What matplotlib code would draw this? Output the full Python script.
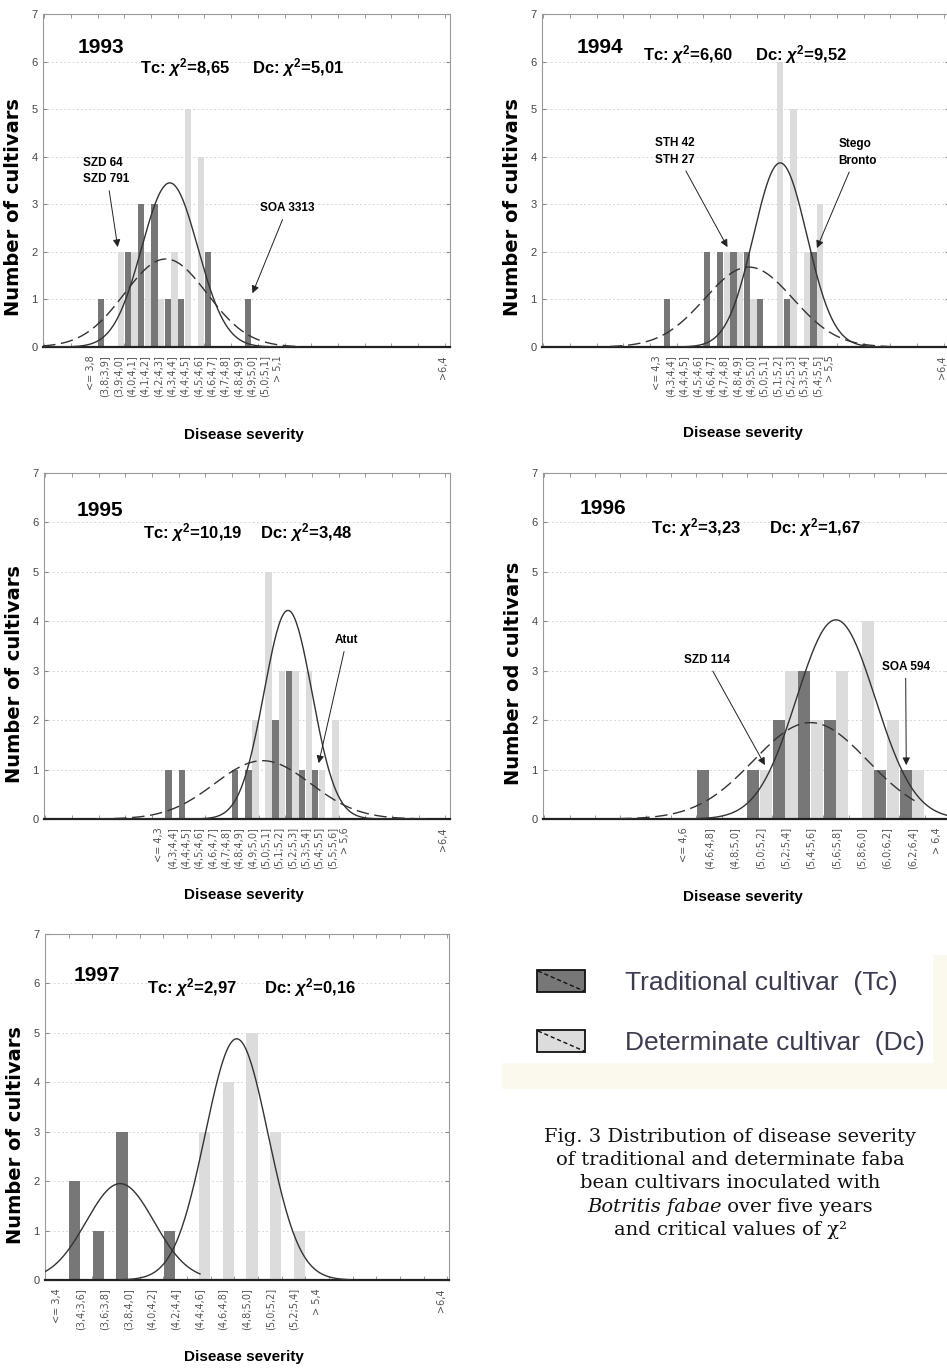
import numpy as np
import matplotlib
matplotlib.use('Agg')
import matplotlib.pyplot as plt
from matplotlib.patches import Rectangle
from matplotlib.ticker import MultipleLocator

SANS = 'Liberation Sans'

plt.rcParams['mathtext.fontset'] = 'custom'
plt.rcParams['mathtext.rm'] = SANS + ':bold'
plt.rcParams['mathtext.it'] = SANS + ':italic:bold'
plt.rcParams['mathtext.bf'] = SANS + ':bold'

# ---- data ----
years = ['1993', '1994', '1995', '1996', '1997']
chi_tc = ['8,65', '6,60', '10,19', '3,23', '2,97']
chi_dc = ['5,01', '9,52', '3,48', '1,67', '0,16']

labels_1993 = ['<= 3,8', '(3,8;3,9]', '(3,9;4,0]', '(4,0;4,1]', '(4,1;4,2]', '(4,2;4,3]',
               '(4,3;4,4]', '(4,4;4,5]', '(4,5;4,6]', '(4,6;4,7]', '(4,7;4,8]', '(4,8;4,9]',
               '(4,9;5,0]', '(5,0;5,1]', '> 5,1']
tc_1993 = [0, 1, 0, 2, 3, 3, 1, 1, 0, 2, 0, 0, 1, 0, 0]
dc_1993 = [0, 0, 2, 2, 2, 1, 2, 5, 4, 0, 0, 0, 0, 0, 0]

labels_1994 = ['<= 4,3', '(4,3;4,4]', '(4,4;4,5]', '(4,5;4,6]', '(4,6;4,7]', '(4,7;4,8]',
               '(4,8;4,9]', '(4,9;5,0]', '(5,0;5,1]', '(5,1;5,2]', '(5,2;5,3]', '(5,3;5,4]',
               '(5,4;5,5]', '> 5,5']
tc_1994 = [0, 1, 0, 0, 2, 2, 2, 2, 1, 0, 1, 0, 2, 0]
dc_1994 = [0, 0, 0, 0, 0, 2, 2, 1, 0, 6, 5, 2, 3, 0]

labels_1995 = ['<= 4,3', '(4,3;4,4]', '(4,4;4,5]', '(4,5;4,6]', '(4,6;4,7]', '(4,7;4,8]',
               '(4,8;4,9]', '(4,9;5,0]', '(5,0;5,1]', '(5,1;5,2]', '(5,2;5,3]', '(5,3;5,4]',
               '(5,4;5,5]', '(5,5;5,6]', '> 5,6']
tc_1995 = [0, 1, 1, 0, 0, 0, 1, 1, 0, 2, 3, 1, 1, 0, 0]
dc_1995 = [0, 0, 0, 0, 0, 0, 0, 2, 5, 3, 3, 3, 1, 2, 0]

labels_1996 = ['<= 4,6', '(4,6;4,8]', '(4,8;5,0]', '(5,0;5,2]', '(5,2;5,4]', '(5,4;5,6]',
               '(5,6;5,8]', '(5,8;6,0]', '(6,0;6,2]', '(6,2;6,4]', '> 6,4']
tc_1996 = [0, 1, 0, 1, 2, 3, 2, 0, 1, 1, 0]
dc_1996 = [0, 0, 0, 1, 3, 2, 3, 4, 2, 1, 0]

labels_1997 = ['<= 3,4', '(3,4;3,6]', '(3,6;3,8]', '(3,8;4,0]', '(4,0;4,2]', '(4,2;4,4]',
               '(4,4;4,6]', '(4,6;4,8]', '(4,8;5,0]', '(5,0;5,2]', '(5,2;5,4]', '> 5,4']
tc_1997 = [0, 2, 1, 3, 0, 1, 0, 0, 0, 0, 0, 0]
dc_1997 = [0, 0, 0, 0, 0, 0, 3, 4, 5, 3, 1, 0]

# bin centre of the first class and class width
first_centre = [3.75, 4.25, 4.25, 4.5, 3.3]
bin_width = [0.1, 0.1, 0.1, 0.2, 0.2]

# fitted normal curves: mean, sd, peak height, drawn range
fit_tc = [(4.31, 0.31, 1.85, 3.39, 5.30), (4.94, 0.33, 1.68, 3.90, 6.00),
          (5.03, 0.36, 1.18, 3.78, 6.25), (5.50, 0.45, 1.95, 3.99, 6.32),
          (3.835, 0.287, 1.95, 3.20, 4.51)]
fit_dc = [(4.34, 0.21, 3.45, 3.39, 5.30), (5.175, 0.20, 3.87, 4.30, 6.00),
          (5.22, 0.18, 4.22, 3.78, 6.25), (5.70, 0.31, 4.03, 4.40, 6.60),
          (4.82, 0.265, 4.88, 3.83, 5.78)]
tc_dashed = [True, True, True, True, False]

labels = [labels_1993, labels_1994, labels_1995, labels_1996, labels_1997]
tc_counts = [tc_1993, tc_1994, tc_1995, tc_1996, tc_1997]
dc_counts = [dc_1993, dc_1994, dc_1995, dc_1996, dc_1997]
ylabels = ['Number of cultivars'] * 3 + ['Number od cultivars', 'Number of cultivars']

# ---- layout (pixels) ----
W, H = 947, 1371
rects = [(43, 14, 407, 333), (542, 14, 407, 333), (44, 473, 406, 346),
         (543, 473, 407, 346), (45, 934, 404, 346)]
xlims = [(3.39, 6.44), (3.39, 6.44), (3.39, 6.435), (3.39, 6.60), (3.20, 6.615)]
far_pos = [6.39, 6.39, 6.38, None, 6.55]
year_pos = [(0.143, 0.90), (0.143, 0.898), (0.138, 0.893), (0.147, 0.896), (0.128, 0.88)]
tc_pos = [(0.349, 0.838), (0.359, 0.877), (0.366, 0.829), (0.376, 0.841), (0.364, 0.844)]
dc_pos = [(0.627, 0.838), (0.636, 0.877), (0.646, 0.829), (0.668, 0.841), (0.656, 0.844)]
xlab_pos = [(0.494, -0.264), (0.494, -0.258), (0.493, -0.22), (0.491, -0.225), (0.493, -0.223)]

notes = [
    [('SZD 64\nSZD 791', (3.95, 2.10), (3.69, 3.70), 'left'),
     ('SOA 3313', (4.96, 1.13), (5.22, 2.92), 'center')],
    [('STH 42\nSTH 27', (4.78, 2.10), (4.24, 4.11), 'left'),
     ('Stego\nBronto', (5.45, 2.08), (5.61, 4.09), 'left')],
    [('Atut', (5.45, 1.13), (5.66, 3.62), 'center')],
    [('SZD 114', (5.14, 1.09), (4.68, 3.22), 'center'),
     ('SOA 594', (6.255, 1.09), (6.25, 3.08), 'center')],
    [],
]

DARK = '#777777'
LIGHT = '#dcdcdc'

fig = plt.figure(figsize=(W / 100, H / 100), dpi=100)

# overlay for legend and caption, in pixel units
ov = fig.add_axes([0, 0, 1, 1])
ov.set_xlim(0, W)
ov.set_ylim(H, 0)
ov.axis('off')

for k in range(5):
    l, t, w, h = rects[k]
    ax = fig.add_axes([l / W, 1 - (t + h) / H, w / W, h / H])
    bw = bin_width[k]
    centres = first_centre[k] + bw * np.arange(len(labels[k]))
    ax.bar(centres - bw / 4, tc_counts[k], width=bw / 2 * 0.95, color=DARK, zorder=2)
    ax.bar(centres + bw / 4, dc_counts[k], width=bw / 2 * 0.95, color=LIGHT, zorder=2)

    for fit, dashed in ((fit_tc[k], tc_dashed[k]), (fit_dc[k], False)):
        mu, sd, peak, x0, x1 = fit
        xs = np.linspace(x0, x1, 300)
        ys = peak * np.exp(-0.5 * ((xs - mu) / sd) ** 2)
        ax.plot(xs, ys, color='#333333', lw=1.0, zorder=3,
                linestyle=(0, (9, 4)) if dashed else '-')

    ticks = list(centres)
    tick_labels = list(labels[k])
    if far_pos[k] is not None:
        ticks.append(far_pos[k])
        tick_labels.append('>6,4')
    ax.set_xticks(ticks, tick_labels, rotation=90, fontsize=7, color='#555555')
    ax.tick_params(axis='x', which='major', length=0, pad=6)
    ax.xaxis.set_minor_locator(MultipleLocator(0.2))
    ax.tick_params(axis='x', which='minor', top=True, bottom=True, direction='in',
                   length=3, color='#888888')
    ax.set_xlim(*xlims[k])

    ax.set_ylim(0, 7)
    ax.set_yticks(range(8))
    ax.tick_params(axis='y', right=True, direction='in', length=3, color='#888888',
                   labelsize=8, labelcolor='#444444', pad=4)
    for lab in ax.get_yticklabels():
        lab.set_family(SANS)
    ax.set_axisbelow(True)
    ax.yaxis.grid(True, linestyle=(0, (2, 3)), color='#cccccc', lw=0.6)

    for side in ('top', 'left', 'right'):
        ax.spines[side].set_color('#999999')
        ax.spines[side].set_linewidth(0.8)
    ax.spines['bottom'].set_color('#222222')
    ax.spines['bottom'].set_linewidth(1.6)

    ax.set_ylabel(ylabels[k], fontsize=14, fontweight='bold', family='DejaVu Sans')
    ax.yaxis.set_label_coords(-20 / w, 0.42)
    ax.text(*xlab_pos[k], 'Disease severity', transform=ax.transAxes, ha='center',
            va='center', fontsize=11, fontweight='bold', family=SANS)

    ax.text(*year_pos[k], years[k], transform=ax.transAxes, ha='center', va='center',
            fontsize=15, fontweight='bold', family=SANS)
    ax.text(*tc_pos[k], 'Tc: $\\chi^2$=' + chi_tc[k], transform=ax.transAxes,
            ha='center', va='center', fontsize=12, fontweight='bold', family=SANS)
    ax.text(*dc_pos[k], 'Dc: $\\chi^2$=' + chi_dc[k], transform=ax.transAxes,
            ha='center', va='center', fontsize=12, fontweight='bold', family=SANS)

    for txt, tip, at, ha in notes[k]:
        ax.annotate(txt, xy=tip, xytext=at, ha=ha, va='center', fontsize=8.5,
                    fontweight='bold', family=SANS, linespacing=1.5, zorder=5,
                    arrowprops=dict(arrowstyle='-|>', color='#222222', lw=0.7,
                                    shrinkA=2, shrinkB=0, mutation_scale=11))

# ---- legend box ----
ov.add_patch(Rectangle((502, 955), 445, 133, color='#fbf8ee', zorder=0))
ov.add_patch(Rectangle((502, 955), 430, 107, color='white', zorder=1))
for y0, col, txt in ((970, DARK, 'Traditional cultivar  (Tc)'),
                     (1030, LIGHT, 'Determinate cultivar  (Dc)')):
    ov.add_patch(Rectangle((537, y0), 48, 22, facecolor=col, edgecolor='#111111',
                           lw=1.3, zorder=2))
    ov.plot([538, 584], [y0 + 1, y0 + 21], color='#111111', lw=1.0,
            linestyle=(0, (3, 2)), zorder=3)
    ov.text(625, y0 + 13, txt, ha='left', va='center', fontsize=19,
            family=SANS, color='#3c3c50', zorder=3)

# ---- caption ----
cap_x = 730
cap_size = 14
cap_lines = [(1137, 'Fig. 3 Distribution of disease severity'),
             (1160, 'of traditional and determinate faba'),
             (1183, 'bean cultivars inoculated with'),
             (1230, 'and critical values of χ²')]
for y0, txt in cap_lines:
    ov.text(cap_x, y0, txt, ha='center', va='center', fontsize=cap_size,
            family='DejaVu Serif', color='#111111')
t_it = ov.text(0, 1207, 'Botritis fabae', ha='left', va='center', fontsize=cap_size,
               family='DejaVu Serif', style='italic', color='#111111')
t_rm = ov.text(0, 1207, ' over five years', ha='left', va='center', fontsize=cap_size,
               family='DejaVu Serif', color='#111111')
fig.canvas.draw()
r = fig.canvas.get_renderer()
w_it = t_it.get_window_extent(r).width
w_rm = t_rm.get_window_extent(r).width
start = cap_x - (w_it + w_rm) / 2
t_it.set_x(start)
t_rm.set_x(start + w_it)

fig.savefig('out.png', dpi=100)
